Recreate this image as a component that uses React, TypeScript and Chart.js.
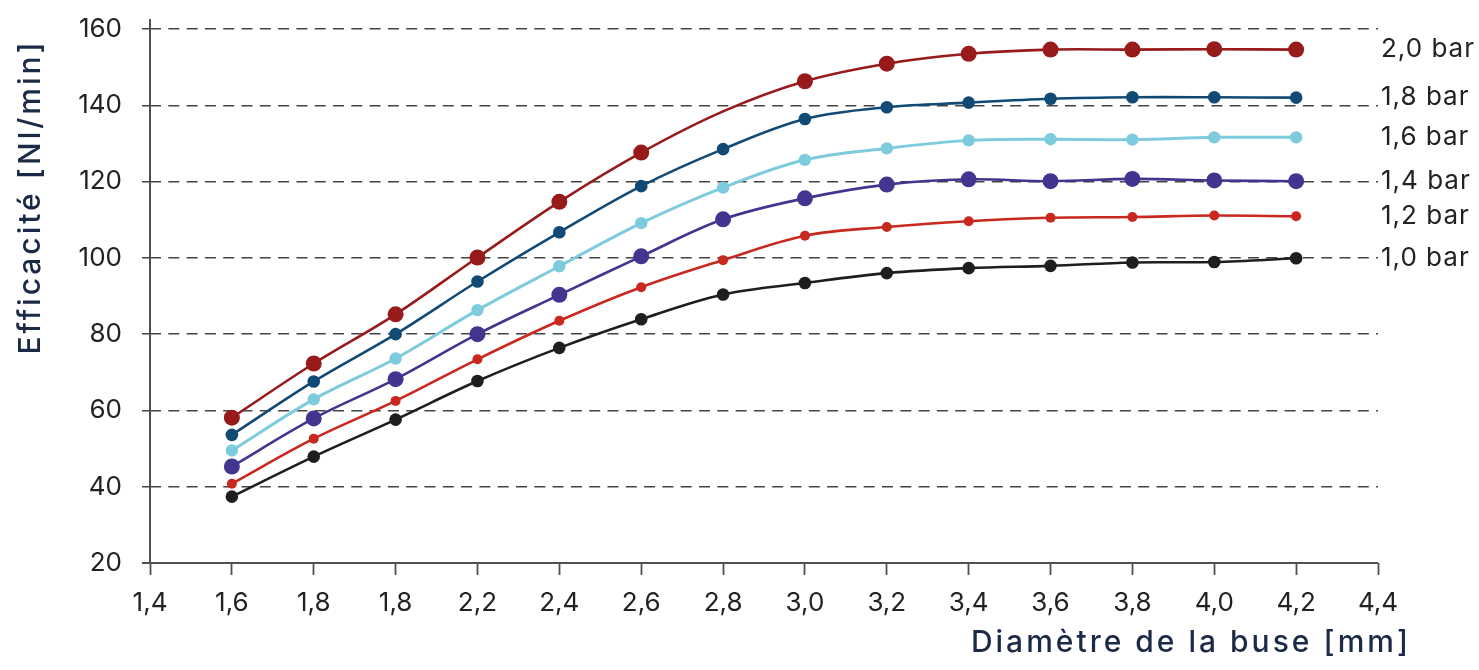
import React, { useEffect, useRef } from "react";
import { Chart, registerables } from "chart.js";

Chart.register(...registerables);

// ---- data ----
const xValues = [1.6, 1.8, 2.0, 2.2, 2.4, 2.6, 2.8, 3.0, 3.2, 3.4, 3.6, 3.8, 4.0, 4.2];
const xTickValues = [1.4, 1.6, 1.8, 2.0, 2.2, 2.4, 2.6, 2.8, 3.0, 3.2, 3.4, 3.6, 3.8, 4.0, 4.2, 4.4];
const xTickLabels = ["1,4", "1,6", "1,8", "1,8", "2,2", "2,4", "2,6", "2,8", "3,0", "3,2", "3,4", "3,6", "3,8", "4,0", "4,2", "4,4"];
const yTickValues = [20, 40, 60, 80, 100, 120, 140, 160];

const seriesLabels = ["2,0 bar", "1,8 bar", "1,6 bar", "1,4 bar", "1,2 bar", "1,0 bar"];
const bar20 = [58.1, 72.3, 85.2, 100.1, 114.7, 127.6, 138.4, 146.3, 150.9, 153.5, 154.6, 154.6, 154.7, 154.6];
const bar18 = [53.6, 67.6, 80.0, 93.8, 106.7, 118.8, 128.5, 136.4, 139.5, 140.7, 141.7, 142.1, 142.1, 142.0];
const bar16 = [49.5, 62.9, 73.6, 86.3, 97.8, 109.1, 118.4, 125.7, 128.7, 130.8, 131.1, 131.0, 131.6, 131.6];
const bar14 = [45.3, 57.9, 68.2, 80.0, 90.3, 100.4, 110.1, 115.6, 119.2, 120.6, 120.1, 120.7, 120.3, 120.1];
const bar12 = [40.8, 52.6, 62.5, 73.4, 83.5, 92.3, 99.4, 105.8, 108.1, 109.6, 110.5, 110.7, 111.1, 110.9];
const bar10 = [37.4, 47.9, 57.6, 67.7, 76.4, 83.9, 90.4, 93.4, 96.0, 97.3, 97.9, 98.8, 98.9, 99.9];

const seriesValues = [bar20, bar18, bar16, bar14, bar12, bar10];
const seriesColors = ["#971b1b", "#124a76", "#7dcbdd", "#41358f", "#c8281e", "#1e1e1e"];
const seriesRadius = [8, 6.3, 6.2, 8, 5, 6.3];
const seriesLineWidth = [2.6, 2.6, 3, 2.6, 2.6, 2.6];
// the 2,0 bar curve has no marker at 2,8 in the reference
const hiddenMarker = { series: 0, index: 6 };

const yTitle = "Efficacité [Nl/min]";
const xTitle = "Diamètre de la buse [mm]";

const FONT = "Inter, 'DejaVu Sans', sans-serif";

export default function App() {
  const canvasRef = useRef<HTMLCanvasElement | null>(null);

  useEffect(() => {
    const canvas = canvasRef.current;
    if (!canvas) return;

    const decorPlugin = {
      id: "decor",
      beforeDatasetsDraw(chart: any) {
        const { ctx, chartArea } = chart;
        ctx.save();
        ctx.strokeStyle = "#505050";
        ctx.lineWidth = 2;
        ctx.setLineDash([]);
        // y axis line (extends a little above the top grid line)
        ctx.beginPath();
        ctx.moveTo(chartArea.left, chartArea.top - 10);
        ctx.lineTo(chartArea.left, chartArea.bottom);
        ctx.stroke();
        // x axis line
        ctx.beginPath();
        ctx.moveTo(chartArea.left - 8, chartArea.bottom);
        ctx.lineTo(chartArea.right, chartArea.bottom);
        ctx.stroke();
        ctx.restore();
      },
      afterDraw(chart: any) {
        const { ctx, chartArea } = chart;
        ctx.save();
        // right-side series labels, aligned to the last point of each series
        ctx.font = `26px ${FONT}`;
        (ctx as any).letterSpacing = "1px";
        ctx.fillStyle = "#222";
        ctx.textAlign = "left";
        ctx.textBaseline = "middle";
        chart.data.datasets.forEach((ds: any, i: number) => {
          const meta = chart.getDatasetMeta(i);
          const last = meta.data[meta.data.length - 1];
          ctx.fillText(ds.label, chartArea.right + 3, last.y);
        });
        // axis titles
        ctx.fillStyle = "#1b2a47";
        ctx.font = `500 30px ${FONT}`;
        (ctx as any).letterSpacing = "3px";
        ctx.textAlign = "right";
        ctx.textBaseline = "alphabetic";
        ctx.fillText(xTitle, 1411, 652);
        ctx.translate(40, 197);
        ctx.rotate(-Math.PI / 2);
        ctx.textAlign = "center";
        ctx.fillText(yTitle, 0, 0);
        ctx.restore();
      },
    };

    const chart = new Chart(canvas, {
      type: "line",
      data: {
        datasets: seriesValues.map((vals, si) => ({
          label: seriesLabels[si],
          data: vals.map((v, i) => ({ x: xValues[i], y: v })),
          borderColor: seriesColors[si],
          backgroundColor: seriesColors[si],
          pointBackgroundColor: seriesColors[si],
          pointBorderWidth: 0,
          pointRadius: (c: any) =>
            si === hiddenMarker.series && c.dataIndex === hiddenMarker.index ? 0 : seriesRadius[si],
          borderWidth: seriesLineWidth[si],
          tension: 0.35,
          fill: false,
        })),
      },
      options: {
        animation: false,
        responsive: false,
        layout: { padding: { left: 0, right: 101, top: 29, bottom: 0 } },
        plugins: {
          legend: { display: false },
          tooltip: { enabled: false },
        },
        scales: {
          x: {
            type: "linear",
            min: 1.4,
            max: 4.4,
            afterBuildTicks: (s: any) => {
              s.ticks = xTickValues.map((v) => ({ value: v }));
            },
            afterFit: (s: any) => {
              s.height = 107;
            },
            grid: {
              drawOnChartArea: false,
              drawTicks: true,
              tickLength: 12,
              tickColor: "#505050",
              tickWidth: 1.8,
            },
            border: { display: false },
            ticks: {
              autoSkip: false,
              maxRotation: 0,
              padding: 13,
              color: "#222",
              font: { family: FONT, size: 26 },
              callback: (_v: any, i: number) => xTickLabels[i],
            },
          },
          y: {
            type: "linear",
            min: 20,
            max: 160,
            afterBuildTicks: (s: any) => {
              s.ticks = yTickValues.map((v) => ({ value: v }));
            },
            afterFit: (s: any) => {
              s.width = 150;
              s.paddingTop = 0;
              s.paddingBottom = 0;
            },
            grid: {
              color: "#444",
              lineWidth: 1.5,
              drawTicks: true,
              tickLength: 8,
              tickColor: "#444",
            },
            border: { display: false, dash: [11, 7.3] },
            ticks: {
              padding: 20,
              color: "#222",
              font: { family: FONT, size: 26 },
              callback: (v: any) => String(v),
            },
          },
        },
      },
      plugins: [decorPlugin],
    });

    return () => chart.destroy();
  }, []);

  return (
    <div style={{ position: "fixed", left: 0, top: 0, width: 1479, height: 670, background: "#fff" }}>
      <canvas ref={canvasRef} width={1479} height={670} style={{ display: "block" }} />
    </div>
  );
}
